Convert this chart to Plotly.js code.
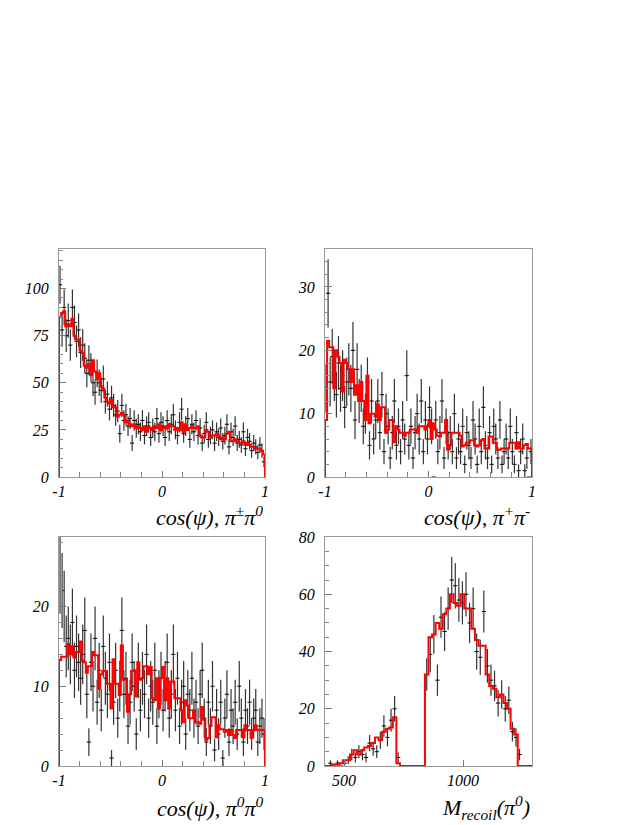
<!DOCTYPE html>
<html>
<head>
<meta charset="utf-8">
<script src="https://cdn.plot.ly/plotly-3.0.1.min.js"></script>
<style>
  body { margin: 0; background: #fff; }
  #plot { width: 638px; height: 825px; }
</style>
</head>
<body>
<div id="plot"></div>
<script>
// cos(psi) panels: 100 bins from -1 to 1
var cosLo = -1, cosW = 0.02;

// pi+- pi0
var data1 = [102, 78, 90, 75, 83, 70, 90, 82, 72, 78, 66, 70, 63, 55, 62, 58, 50, 45, 55, 50,
  46, 52, 40, 44, 36, 42, 38, 33, 35, 23, 38, 30, 33, 27, 31, 18, 30, 26, 28, 24,
  30, 22, 27, 29, 21, 26, 24, 31, 23, 29, 27, 21, 30, 24, 28, 33, 25, 22, 29, 36,
  23, 27, 31, 20, 28, 24, 30, 22, 26, 18, 23, 29, 20, 22, 25, 18, 24, 21, 26, 19,
  22, 28, 16, 24, 21, 27, 18, 20, 17, 24, 15, 21, 19, 14, 18, 16, 13, 17, 14, 8];
var mc1 = [85, 87, 88, 80, 81, 80, 84, 75, 73, 73, 67, 66, 59, 58, 60, 54, 62, 56, 52, 55,
  48, 47, 42, 40, 39, 41, 37, 37, 32, 33, 34, 33, 29, 30, 28, 27, 28, 26, 27, 26,
  25, 27, 24, 27, 26, 25, 27, 26, 28, 25, 26, 27, 26, 28, 27, 27, 25, 26, 25, 29,
  24, 28, 25, 26, 27, 26, 26, 27, 22, 21, 21, 25, 24, 21, 22, 22, 23, 22, 20, 21,
  20, 23, 24, 19, 19, 20, 19, 18, 18, 19, 17, 18, 17, 16, 16, 15, 15, 15, 14, 12];

// pi+ pi-
var data2 = [14, 29, 15, 19, 16, 13, 18, 14, 16, 11, 15, 17, 14, 20, 9, 17, 12, 14, 8, 10,
  15, 5, 12, 6, 9, 12, 7, 13, 4, 10, 8, 3, 7, 12, 5, 8, 4, 9, 6, 16,
  5, 8, 3, 7, 10, 6, 12, 4, 9, 6, 11, 8, 0, 9, 4, 7, 12, 3, 8, 5,
  7, 4, 10, 3, 6, 4, 8, 2, 7, 5, 3, 9, 6, 2, 8, 4, 11, 5, 3, 7,
  2, 8, 6, 3, 9, 2, 4, 6, 3, 8, 4, 2, 7, 1, 4, 6, 1, 3, 0, 4];
var mc2 = [9, 21.5, 20.5, 20.5, 14, 20, 19, 18, 13.5, 18.5, 18, 17, 15, 17, 13, 14.5, 12, 15, 12, 9,
  16, 8.5, 10, 10, 9.5, 11.5, 9, 11, 11, 7, 7.5, 9, 9, 5.5, 8, 7.5, 7, 7, 6.5, 7,
  7, 7.5, 7.5, 7.5, 7, 8, 8, 8, 7.5, 8, 9, 6, 8.5, 7.5, 6.5, 6.4, 7, 7, 9, 4.3,
  5, 7, 7, 7, 7, 6.5, 4.8, 5, 5.4, 5.4, 5.8, 5.8, 5, 4.8, 5, 5.8, 6, 4.5, 4.5, 6.4,
  6.4, 5.4, 5.4, 4.3, 4.3, 4.5, 4.5, 4.5, 4.5, 5.4, 5.4, 5.4, 4.5, 5.5, 4.5, 4.5, 5, 5.2, 4.5, 4.5];

// pi0 pi0
var data3 = [24, 22, 20, 15, 16, 14, 18, 12, 15, 13, 11, 14, 17, 9, 3, 13, 10, 16, 8, 12,
  7, 15, 11, 9, 13, 1, 8, 12, 6, 10, 17, 9, 11, 5, 8, 13, 10, 4, 12, 7,
  11, 9, 14, 6, 10, 8, 12, 5, 9, 11, 7, 10, 13, 6, 9, 14, 7, 11, 5, 8,
  10, 4, 9, 7, 11, 6, 8, 5, 9, 12, 6, 3, 8, 5, 10, 2, 7, 4, 8, 1,
  6, 9, 3, 7, 5, 8, 4, 10, 6, 3, 7, 5, 8, 4, 6, 7, 3, 5, 6, 4];
var mc3 = [13.3, 13.7, 13.7, 13.7, 15.3, 14, 15, 13.6, 14.3, 14.3, 15.6, 13.2, 13, 11.7, 12.5, 12.5, 14.3, 13.9, 13.9, 9.7,
  11.5, 11.9, 11.9, 10.3, 10.3, 7.2, 13.4, 10.3, 10.3, 8.9, 15.1, 10.8, 10.8, 6.8, 9, 11.9, 12, 8.7, 13, 10.8,
  11, 12.5, 12.5, 11.5, 12.4, 8.5, 8.25, 11, 7.2, 11, 12.4, 8.25, 11, 7.2, 10.6, 10.6, 8.5, 8.5, 8.5, 7,
  5.5, 8.25, 7.6, 6, 6, 7, 5.5, 5.5, 5.3, 7.4, 5.8, 3.3, 3.5, 5.1, 6.1, 6.1, 3.6, 5.1, 4.6, 4.6,
  4.3, 4.5, 3.9, 4.5, 3.9, 3.5, 4.5, 4.5, 4.5, 3.6, 5.1, 4.5, 4.5, 3.5, 4.5, 5.1, 4.5, 4.5, 4.5, 4.5];

// recoil mass of pi0: 58 bins of 15 from 420
var mLo = 420, mW = 15;
var data4 = [null, 1, 0, 1, 0, 1, 2, 4, 3, 5, 4, 3, 8, 6, 5, 9, 14, 10, 16, 20,
  3, null, null, null, null, null, null, null, 32, 39, 46, 30, 52, 47, 55, 65, 63, 58, 57, 60,
  50, 55, 40, 38, 54, 35, 30, 28, 22, 25, 20, 23, 12, 10, 4, null, null, null];
var mc4 = [0, 0, 0.5, 0.5, 1, 2, 2, 4, 5.5, 4, 5.5, 6.5, 7, 8, 10, 9, 12, 13, 13.5, 17,
  1, 0, 0, 0, 0, 0, 0, 0, 32, 45, 46, 50, 48, 53, 55, 60, 57, 56, 60, 55,
  55, 48, 44, 42, 42, 32, 28, 27, 24, 25, 22, 20, 13, 11, 0, 0, 0, 0];

var xTitles = [
  '<i>cos(ψ), π<sup>±</sup>π<sup>0</sup></i>',
  '<i>cos(ψ), π<sup>+</sup>π<sup>-</sup></i>',
  '<i>cos(ψ), π<sup>0</sup>π<sup>0</sup></i>',
  '<i>M<sub>recoil</sub>(π<sup>0</sup>)</i>'
];

function centers(lo, w, n) {
  var c = [];
  for (var i = 0; i < n; i++) c.push(lo + (i + 0.5) * w);
  return c;
}

// histogram outline from bin edges, drawn with shape 'hv'
function stepXY(lo, w, vals) {
  var x = [lo], y = [0];
  for (var i = 0; i < vals.length; i++) {
    x.push(lo + i * w);
    y.push(vals[i]);
  }
  x.push(lo + vals.length * w); y.push(vals[vals.length - 1]);
  x.push(lo + vals.length * w); y.push(0);
  return {x: x, y: y};
}

function dataTrace(lo, w, vals, ax) {
  return {
    x: centers(lo, w, vals.length), y: vals,
    xaxis: 'x' + ax, yaxis: 'y' + ax,
    mode: 'markers', type: 'scatter', showlegend: false,
    marker: {symbol: 'line-ew', size: 3, color: '#000', line: {width: 1, color: '#000'}},
    error_y: {type: 'sqrt', visible: true, color: '#333', thickness: 1.2, width: 0}
  };
}

function mcTrace(lo, w, vals, ax) {
  var s = stepXY(lo, w, vals);
  return {
    x: s.x, y: s.y, xaxis: 'x' + ax, yaxis: 'y' + ax,
    mode: 'lines', type: 'scatter', showlegend: false,
    line: {shape: 'hv', color: '#ff0000', width: 2}
  };
}

var traces = [
  dataTrace(cosLo, cosW, data1, ''), mcTrace(cosLo, cosW, mc1, ''),
  dataTrace(cosLo, cosW, data2, '2'), mcTrace(cosLo, cosW, mc2, '2'),
  dataTrace(cosLo, cosW, data3, '3'), mcTrace(cosLo, cosW, mc3, '3'),
  dataTrace(mLo, mW, data4, '4'), mcTrace(mLo, mW, mc4, '4')
];

var tickFont = {family: 'Liberation Serif, Times New Roman, serif', size: 16, style: 'italic', color: '#000'};

function xAxis(domain, anchor, range, opts) {
  var a = {
    domain: domain, anchor: anchor, range: range,
    showgrid: false, zeroline: false, showline: true, mirror: true,
    linecolor: '#999', linewidth: 1,
    ticks: 'inside', ticklen: 6, tickcolor: '#777',
    tickfont: tickFont
  };
  return Object.assign(a, opts);
}

function yAxis(domain, anchor, range, dtick, minor) {
  return {
    domain: domain, anchor: anchor, range: range,
    showgrid: false, zeroline: false, showline: true, mirror: true,
    linecolor: '#999', linewidth: 1,
    ticks: 'inside', ticklen: 7, tickcolor: '#777', dtick: dtick, tick0: 0,
    minor: {dtick: minor, ticks: 'inside', ticklen: 4, tickcolor: '#888'},
    ticklabelstandoff: 6,
    tickfont: tickFont
  };
}

var cosX = {tickvals: [-1, 0, 1], ticktext: ['-1', '0', '1'],
  minor: {dtick: 0.2, tick0: -1, ticks: 'inside', ticklen: 5, tickcolor: '#888'}};

var leftX = [0.0925, 0.4154], rightX = [0.5094, 0.8339];
var topY = [0.4218, 0.6982], botY = [0.0715, 0.349];

var layout = {
  width: 638, height: 825,
  margin: {l: 0, r: 0, t: 0, b: 0},
  paper_bgcolor: '#fff', plot_bgcolor: '#fff',
  showlegend: false,
  xaxis: xAxis(leftX, 'y', [-1, 1], cosX),
  yaxis: yAxis(topY, 'x', [0, 121], 25, 5),
  xaxis2: xAxis(rightX, 'y2', [-1, 1], cosX),
  yaxis2: yAxis(topY, 'x2', [0, 36], 10, 2),
  xaxis3: xAxis(leftX, 'y3', [-1, 1], cosX),
  yaxis3: yAxis(botY, 'x3', [0, 28.7], 10, 2),
  xaxis4: xAxis(rightX, 'y4', [420, 1290], {tickvals: [500, 1000]}),
  yaxis4: yAxis(botY, 'x4', [0, 80], 20, 5),
  annotations: [
    {xref: 'x domain', yref: 'paper', x: 1, y: 0.3745},
    {xref: 'x2 domain', yref: 'paper', x: 1, y: 0.3745},
    {xref: 'x3 domain', yref: 'paper', x: 1, y: 0.0215},
    {xref: 'x4 domain', yref: 'paper', x: 1, y: 0.0215}
  ].map(function (a, i) {
    return Object.assign(a, {
      text: xTitles[i], showarrow: false, xanchor: 'right', yanchor: 'middle',
      font: {family: 'Liberation Serif, Times New Roman, serif', size: 22, color: '#000'}
    });
  })
};

Plotly.newPlot('plot', traces, layout, {staticPlot: true});
</script>
</body>
</html>
